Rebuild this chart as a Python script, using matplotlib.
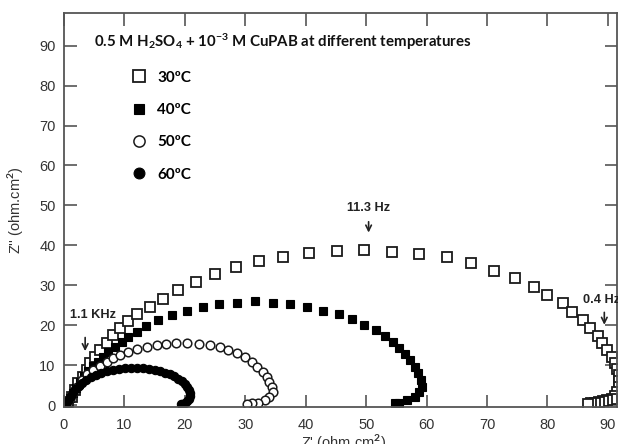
import matplotlib
matplotlib.use("Agg")
import matplotlib.pyplot as plt

# ---------------- data ----------------
z30_re = [0.3, 0.7, 1.3, 1.8, 2.3, 3.1, 3.8, 4.3, 5.1, 6.0, 7.1, 8.1, 9.3, 10.6,
          12.1, 14.2, 16.3, 18.8, 21.8, 25.0, 28.4, 32.3, 36.2, 40.5, 45.1, 49.6,
          54.2, 58.8, 63.3, 67.4, 71.2, 74.7, 77.7, 80.0, 82.5, 84.1, 85.8, 87.1,
          88.3, 89.1, 89.8, 90.6, 91.1, 91.5, 91.8, 91.9, 91.8, 91.5, 91.2, 90.6,
          89.9, 89.2, 88.5, 87.8, 87.2, 86.7]
z30_im = [0.2, 0.8, 2.0, 3.8, 5.5, 7.0, 8.8, 10.5, 12.0, 13.8, 15.5, 17.5, 19.3, 21.0,
          22.8, 24.5, 26.6, 28.8, 30.8, 32.8, 34.6, 36.1, 37.1, 38.1, 38.6, 38.8,
          38.3, 37.8, 37.1, 35.6, 33.6, 31.8, 29.6, 27.6, 25.6, 23.3, 21.3, 19.3,
          17.3, 15.5, 13.8, 12.0, 10.5, 9.0, 7.5, 6.0, 4.6, 3.3, 2.3, 1.6,
          1.2, 0.9, 0.7, 0.5, 0.4, 0.3]

z40_re = [0.3, 0.6, 1.0, 1.5, 2.0, 2.6, 3.3, 4.0, 4.8, 5.6, 6.4, 7.3, 8.4, 9.6,
          10.6, 12.1, 13.6, 15.5, 17.9, 20.4, 23.0, 25.6, 28.6, 31.6, 34.5, 37.4,
          40.2, 42.8, 45.5, 47.6, 49.6, 51.6, 53.1, 54.5, 55.5, 56.5, 57.2, 58.0,
          58.5, 59.0, 59.2, 58.8, 58.0, 56.7, 55.5, 54.7]
z40_im = [0.2, 0.8, 1.8, 3.0, 4.3, 5.8, 7.2, 8.5, 9.7, 10.8, 12.0, 13.3, 14.5, 15.8,
          17.0, 18.3, 19.7, 21.3, 22.6, 23.6, 24.6, 25.3, 25.5, 26.1, 25.6, 25.3,
          24.6, 23.6, 22.8, 21.6, 20.1, 18.8, 17.3, 15.8, 14.3, 12.8, 11.3, 9.5,
          8.0, 6.3, 4.5, 3.3, 2.0, 1.3, 0.5, 0.5]

z50_re = [0.6, 1.0, 1.5, 2.1, 3.0, 3.8, 4.8, 6.0, 7.1, 8.1, 9.3, 10.6, 12.1, 13.7,
          15.4, 16.9, 18.5, 20.3, 22.3, 24.1, 25.8, 27.1, 28.6, 29.9, 31.1, 31.9,
          32.9, 33.6, 34.0, 34.4, 34.5, 34.0, 33.2, 32.1, 31.1, 30.2]
z50_im = [0.5, 1.5, 3.0, 4.5, 6.3, 7.8, 8.8, 9.8, 10.8, 11.8, 12.5, 13.3, 14.0, 14.5,
          15.0, 15.4, 15.5, 15.5, 15.4, 15.0, 14.5, 13.8, 13.0, 12.0, 10.8, 9.5,
          8.3, 7.0, 5.8, 4.5, 3.3, 2.0, 1.3, 0.5, 0.5, 0.3]

z60_re = [0.3, 0.5, 0.8, 1.1, 1.5, 1.9, 2.4, 3.0, 3.7, 4.5, 5.3, 6.2, 7.1, 8.1,
          9.1, 10.1, 11.1, 12.1, 13.1, 14.1, 15.0, 15.9, 16.7, 17.5, 18.2, 18.9,
          19.5, 20.0, 20.4, 20.7, 20.8, 20.8, 20.6, 20.3, 20.0, 19.6, 19.3]
z60_im = [0.3, 0.8, 1.5, 2.3, 3.2, 4.0, 4.8, 5.6, 6.3, 7.0, 7.6, 8.1, 8.5, 8.8,
          9.0, 9.2, 9.3, 9.3, 9.2, 9.0, 8.8, 8.5, 8.1, 7.7, 7.2, 6.6,
          6.0, 5.3, 4.6, 3.8, 3.0, 2.3, 1.6, 1.0, 0.6, 0.3, 0.2]

series_labels = ["30ºC", "40ºC", "50ºC", "60ºC"]
x_ticks = [0, 10, 20, 30, 40, 50, 60, 70, 80, 90]
y_ticks = [0, 10, 20, 30, 40, 50, 60, 70, 80, 90]

title_text = r"0.5 M H$_2$SO$_4$ + 10$^{-3}$ M CuPAB at different temperatures"
freq_labels = ["1.1 KHz", "11.3 Hz", "0.4 Hz"]

# ---------------- figure ----------------
plt.rcParams["mathtext.fontset"] = "custom"
plt.rcParams["mathtext.rm"] = "Lato:bold"
plt.rcParams["mathtext.it"] = "Lato:bold"
plt.rcParams["mathtext.bf"] = "Lato:bold"

fig = plt.figure(figsize=(6.18, 4.44), dpi=100)
ax = fig.add_axes([64 / 618, 1 - 407 / 444, 553 / 618, 394 / 444])

ms = 6.5
h30, = ax.plot(z30_re, z30_im, ls="none", marker="s", ms=ms, mfc="white",
               mec="#1a1a1a", mew=1.3, label=series_labels[0])
h40, = ax.plot(z40_re, z40_im, ls="none", marker="s", ms=5.6, mfc="black",
               mec="black", mew=0.8, label=series_labels[1])
h50, = ax.plot(z50_re, z50_im, ls="none", marker="o", ms=6.2, mfc="white",
               mec="#1a1a1a", mew=1.1, label=series_labels[2])
h60, = ax.plot(z60_re, z60_im, ls="none", marker="o", ms=6.0, mfc="black",
               mec="black", mew=0.8, label=series_labels[3])

ax.set_xlim(0, 91.5)
ax.set_ylim(-0.5, 98.2)
ax.set_xticks(x_ticks)
ax.set_yticks(y_ticks)

spine_col = "#555555"
for s in ax.spines.values():
    s.set_color(spine_col)
    s.set_linewidth(1.3)
ax.tick_params(direction="in", length=9, width=1.2, color=spine_col,
               top=True, right=True, labelsize=10.5, labelcolor="#333333")
ax.tick_params(axis="x", pad=8)
ax.tick_params(axis="y", pad=6)
for lab in ax.get_xticklabels() + ax.get_yticklabels():
    lab.set_family("Liberation Sans")

ax.set_xlabel("Z' (ohm.cm$^2$)", family="Liberation Sans", fontsize=10.5,
              color="#333333")
ax.set_ylabel("Z'' (ohm.cm$^2$)", family="Liberation Sans", fontsize=10.5,
              color="#333333")
ax.xaxis.set_label_coords(0.506, -0.064)
ax.yaxis.set_label_coords(-0.068, 0.5)

# title inside plot
ax.text(0.055, 0.927, title_text, transform=ax.transAxes, fontsize=10.8,
        family="Lato", weight="bold", color="#111111", va="center", ha="left")

# legend
leg = ax.legend(handles=[h30, h40, h50, h60], loc="upper left",
                bbox_to_anchor=(0.1075, 0.873), frameon=False, numpoints=1,
                handlelength=1.0, handletextpad=0.7, labelspacing=1.2,
                borderpad=0.0, markerscale=1.3,
                prop={"family": "Lato", "weight": "bold", "size": 11})

# frequency annotations
fkw = dict(family="Liberation Sans", weight="bold", fontsize=9.2,
           color="#222222")
ax.text(1.0, 22.6, freq_labels[0], ha="left", va="center", **fkw)
ax.annotate("", xy=(3.5, 12.8), xytext=(3.5, 17.6),
            arrowprops=dict(arrowstyle="->", color="#222222", lw=1.2))
ax.text(50.4, 49.3, freq_labels[1], ha="center", va="center", **fkw)
ax.annotate("", xy=(50.4, 42.5), xytext=(50.4, 46.6),
            arrowprops=dict(arrowstyle="->", color="#222222", lw=1.2))
ax.text(85.9, 26.3, freq_labels[2], ha="left", va="center", clip_on=False, **fkw)
ax.annotate("", xy=(89.4, 19.4), xytext=(89.4, 23.9),
            arrowprops=dict(arrowstyle="->", color="#222222", lw=1.2))

fig.savefig("out.png", dpi=100)
